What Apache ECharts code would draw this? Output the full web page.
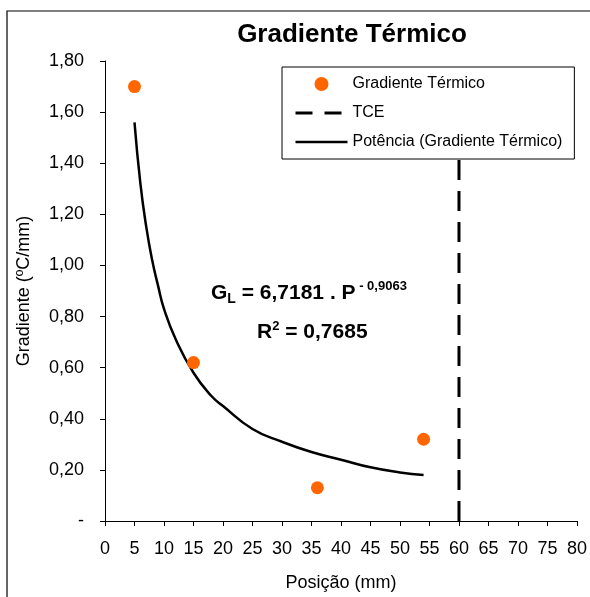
<!DOCTYPE html>
<html>
<head>
<meta charset="utf-8">
<script src="https://cdn.jsdelivr.net/npm/echarts@6/dist/echarts.min.js"></script>
<style>html,body{margin:0;padding:0;background:#fff}#c{width:590px;height:597px}</style>
</head>
<body>
<div id="c"></div>
<script>
const title = 'Gradiente Térmico';
const xName = 'Posição (mm)';
const yName = 'Gradiente (ºC/mm)';
const pointX = [5, 15, 36, 54];
const pointY = [1.70, 0.62, 0.13, 0.32];
const trendX = [5, 6, 7, 8, 9, 10, 12, 15, 18, 20, 25, 30, 35, 40, 45, 50, 54];
const trendY = [1.56, 1.32, 1.15, 1.02, 0.92, 0.83, 0.71, 0.58, 0.49, 0.45, 0.36, 0.31, 0.27, 0.24, 0.21, 0.19, 0.18];
const tceX = [60, 60];
const tceY = [0, 1.8];
const names = ['Gradiente Térmico', 'TCE', 'Potência (Gradiente Térmico)'];

const font = 'Liberation Sans, Arial, sans-serif';
const chart = echarts.init(document.getElementById('c'), null, {renderer: 'canvas'});
const zip = (a, b) => a.map((v, i) => [v, b[i]]);
const noSym = {color: 'rgba(0,0,0,0)', borderColor: 'rgba(0,0,0,0)', borderWidth: 0};

chart.setOption({
  animation: false,
  backgroundColor: '#fff',
  textStyle: {fontFamily: font},
  title: {
    text: title, left: 347, top: 17, textAlign: 'center',
    textStyle: {fontFamily: font, fontSize: 26, fontWeight: 'bold', color: '#000'}
  },
  grid: {left: 105, right: 7, top: 61, bottom: 75, containLabel: false},
  xAxis: {
    type: 'value', min: 0, max: 80, interval: 5,
    name: xName, nameLocation: 'middle', nameGap: 53,
    nameTextStyle: {fontFamily: font, fontSize: 18, color: '#000'},
    axisLine: {show: true, lineStyle: {color: '#000', width: 1}},
    axisTick: {show: true, length: 5, lineStyle: {color: '#000'}},
    axisLabel: {fontFamily: font, fontSize: 18, color: '#000', margin: 19},
    splitLine: {show: false}
  },
  yAxis: {
    type: 'value', min: 0, max: 1.8, interval: 0.2,
    name: yName, nameLocation: 'middle', nameGap: 72,
    nameTextStyle: {fontFamily: font, fontSize: 18, color: '#000'},
    axisLine: {show: true, lineStyle: {color: '#000', width: 1}},
    axisTick: {show: true, length: 5, lineStyle: {color: '#000'}},
    axisLabel: {
      fontFamily: font, fontSize: 18, color: '#000', margin: 21,
      formatter: v => v === 0 ? '-' : v.toFixed(2).replace('.', ',')
    },
    splitLine: {show: false}
  },
  legend: {
    orient: 'vertical', left: 282, top: 67,
    backgroundColor: '#fff', borderColor: '#000', borderWidth: 1,
    padding: [9, 12, 9, 12], itemGap: 13, itemWidth: 52, itemHeight: 14,
    textStyle: {fontFamily: font, fontSize: 16, color: '#000'},
    data: [
      {name: names[0], icon: 'circle', itemStyle: {color: '#FF6600', opacity: 1}},
      {name: names[1], itemStyle: noSym, lineStyle: {type: [17, 12], width: 3, color: '#000'}},
      {name: names[2], itemStyle: noSym, lineStyle: {type: 'solid', width: 2.5, color: '#000'}}
    ]
  },
  series: [
    {
      name: names[1], type: 'line', data: zip(tceX, tceY), symbol: 'none',
      lineStyle: {color: '#000', width: 3, type: [20, 11]}, itemStyle: {color: '#000'}, z: 1
    },
    {
      name: names[2], type: 'line', data: zip(trendX, trendY), symbol: 'none', smooth: true,
      lineStyle: {color: '#000', width: 2.5}, itemStyle: {color: '#000'}, z: 2
    },
    {
      name: names[0], type: 'scatter', data: zip(pointX, pointY), symbol: 'circle', symbolSize: 13,
      itemStyle: {color: '#FF6600', opacity: 1}, z: 3
    }
  ],
  graphic: [
    {type: 'rect', shape: {x: 7, y: 11, width: 600, height: 600}, style: {fill: 'none', stroke: '#000', lineWidth: 1.2}, silent: true, z: 100},
    {
      type: 'text', left: 211, top: 280, z: 50,
      style: {
        text: '{b|G}{s|L}{b| = 6,7181 . P}{p| - 0,9063}',
        rich: {
          b: {fontFamily: font, fontSize: 21, fontWeight: 'bold', fill: '#000'},
          s: {fontFamily: font, fontSize: 14, fontWeight: 'bold', fill: '#000', padding: [12, 0, 0, 0]},
          p: {fontFamily: font, fontSize: 13, fontWeight: 'bold', fill: '#000', padding: [0, 0, 14, 0]}
        }
      }
    },
    {
      type: 'text', left: 257, top: 320, z: 50,
      style: {
        text: '{b|R}{p|2}{b| = 0,7685}',
        rich: {
          b: {fontFamily: font, fontSize: 21, fontWeight: 'bold', fill: '#000'},
          p: {fontFamily: font, fontSize: 13, fontWeight: 'bold', fill: '#000', padding: [0, 0, 12, 0]}
        }
      }
    }
  ]
});
</script>
</body>
</html>
